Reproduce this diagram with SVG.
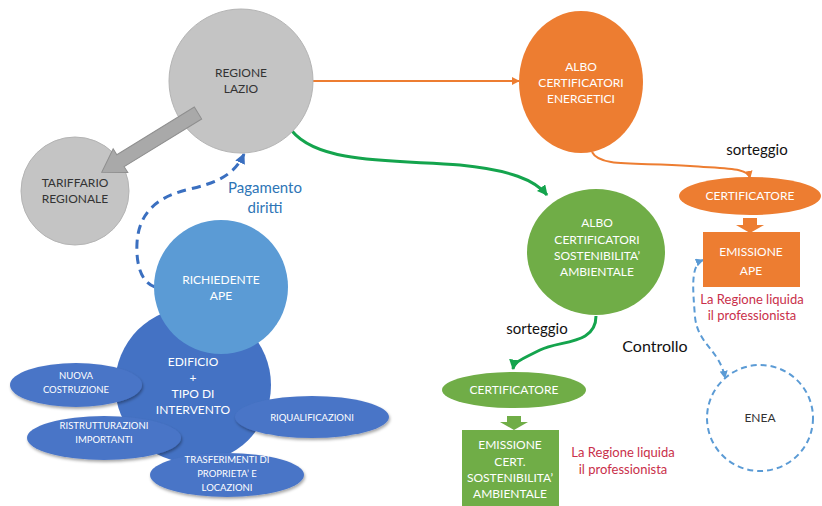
<svg xmlns="http://www.w3.org/2000/svg" width="822" height="506" viewBox="0 0 822 506">
<defs>
<style>
.t{font-family:Lato,"Liberation Sans",sans-serif;font-size:12px;text-anchor:middle;}
.s{font-size:9.5px;}
.w{fill:#ffffff;}
.k{fill:#333333;}
.lbl{font-family:Lato,"Liberation Sans",sans-serif;text-anchor:middle;}
.red{fill:#c9304a;font-size:13px;}
.gray{fill:#c4c4c4;stroke:#b4b4b4;stroke-width:1;}
.orange{fill:#ed7d31;}
.green{fill:#70ad47;}
.lblue{fill:#5b9bd5;}
.dblue{fill:#4472c4;}
.ell{fill:#4a75c7;filter:url(#sh);}
</style>
<filter id="sh" x="-20%" y="-20%" width="140%" height="160%">
<feDropShadow dx="1" dy="2" stdDeviation="1.5" flood-color="#000" flood-opacity="0.35"/>
</filter>
<marker id="ao" viewBox="0 0 10 10" refX="9" refY="5" markerWidth="4" markerHeight="4" orient="auto"><path d="M0,0 L10,5 L0,10 z" fill="#ed7d31"/></marker>
<marker id="ag" viewBox="0 0 10 10" refX="9" refY="5" markerWidth="3.5" markerHeight="3.5" orient="auto"><path d="M0,0 L10,5 L0,10 z" fill="#14a44d"/></marker>
<marker id="ab" viewBox="0 0 10 10" refX="9" refY="5" markerWidth="3.5" markerHeight="3.5" orient="auto"><path d="M0,0 L10,5 L0,10 z" fill="#3a6fc0"/></marker>
<marker id="alb" viewBox="0 0 10 10" refX="9" refY="5" markerWidth="4" markerHeight="4" orient="auto-start-reverse"><path d="M0,0 L10,5 L0,10 z" fill="#5b9bd5"/></marker>
</defs>
<rect width="822" height="506" fill="#ffffff"/>

<g id="connectors" fill="none">
<path d="M313,81 L519,81" stroke="#ed7d31" stroke-width="2" marker-end="url(#ao)"/>
<path d="M592,152 C600,168 640,162 690,166 C730,169 748,168 750,178" stroke="#ed7d31" stroke-width="2" marker-end="url(#ao)"/>
<path d="M292,131 C320,165 400,160 460,165 C510,170 535,180 547,195" stroke="#14a44d" stroke-width="3" marker-end="url(#ag)"/>
<path d="M596,316 C596,345 560,340 540,350 C520,360 514,362 513,369" stroke="#14a44d" stroke-width="3" marker-end="url(#ag)"/>
<path d="M155,287 C140,282 136,262 137,243 C139,210 160,196 190,189 C215,183 234,176 244,154" stroke="#3a6fc0" stroke-width="3" stroke-dasharray="9,6" marker-end="url(#ab)"/>
<path d="M703,260 C690,265 693,290 695,317 C698,345 720,350 725,378" stroke="#5b9bd5" stroke-width="2" stroke-dasharray="6,4" marker-start="url(#alb)" marker-end="url(#alb)"/>
<polygon points="743,218 757,218 757,225 764,225 750,233 736,225 743,225" fill="#ed7d31"/>
<polygon points="507,416 521,416 521,422 528,422 514,430 500,422 507,422" fill="#70ad47"/>
</g>

<g id="regione-lazio">
<circle cx="241" cy="81" r="72" class="gray"/>
<text class="t k" x="241" y="77">REGIONE</text>
<text class="t k" x="241" y="93">LAZIO</text>
</g>

<g id="tariffario">
<circle cx="75" cy="191" r="54" class="gray"/>
<text class="t k" x="75" y="187">TARIFFARIO</text>
<text class="t k" x="75" y="203">REGIONALE</text>
</g>

<g id="connector-tariffario">
<polygon points="0,-7 91,-7 91,-14 113,0 91,14 91,7 0,7" transform="translate(198,113) rotate(148.4)" fill="#a9a9a9" stroke="#8f8f8f" stroke-width="1"/>
</g>

<g id="pagamento-label">
<text class="lbl" x="265" y="193" font-size="15" fill="#2e75b6">Pagamento</text>
<text class="lbl" x="265" y="213" font-size="15" fill="#2e75b6">diritti</text>
</g>

<g id="edificio">
<circle cx="193" cy="385" r="78" class="dblue"/>
<text class="t w" x="193" y="366" font-size="13">EDIFICIO</text>
<text class="t w" x="193" y="382" font-size="13">+</text>
<text class="t w" x="193" y="398" font-size="13">TIPO DI</text>
<text class="t w" x="193" y="414" font-size="13">INTERVENTO</text>
</g>

<g id="richiedente">
<circle cx="221" cy="287" r="67" class="lblue"/>
<text class="t w" x="221" y="284">RICHIEDENTE</text>
<text class="t w" x="221" y="300">APE</text>
</g>

<g id="nuova-costruzione">
<ellipse cx="76" cy="385" rx="66" ry="22" class="ell"/>
<text class="t s w" x="76" y="379">NUOVA</text>
<text class="t s w" x="76" y="393">COSTRUZIONE</text>
</g>

<g id="ristrutturazioni">
<ellipse cx="104" cy="438" rx="77" ry="22" class="ell"/>
<text class="t s w" x="104" y="429">RISTRUTTURAZIONI</text>
<text class="t s w" x="104" y="443">IMPORTANTI</text>
</g>

<g id="riqualificazioni">
<ellipse cx="312" cy="417" rx="77" ry="21" class="ell"/>
<text class="t s w" x="312" y="421">RIQUALIFICAZIONI</text>
</g>

<g id="trasferimenti">
<ellipse cx="227" cy="475" rx="77" ry="22" class="ell"/>
<text class="t s w" x="227" y="463">TRASFERIMENTI DI</text>
<text class="t s w" x="227" y="477">PROPRIETA’ E</text>
<text class="t s w" x="227" y="491">LOCAZIONI</text>
</g>

<g id="albo-energetici">
<ellipse cx="581" cy="82" rx="62" ry="71" class="orange"/>
<text class="t w" x="581" y="71">ALBO</text>
<text class="t w" x="581" y="87">CERTIFICATORI</text>
<text class="t w" x="581" y="103">ENERGETICI</text>
</g>

<g id="sorteggio-1">
<text class="lbl" x="757" y="155" font-size="15" fill="#111">sorteggio</text>
</g>

<g id="certificatore-ape">
<ellipse cx="750" cy="196" rx="71" ry="19" class="orange"/>
<text class="t w" x="750" y="200">CERTIFICATORE</text>
</g>

<g id="emissione-ape">
<rect x="703" y="232" width="97" height="55" class="orange"/>
<text class="t w" x="751" y="256" font-size="14">EMISSIONE</text>
<text class="t w" x="751" y="275" font-size="14">APE</text>
<text class="lbl red" x="752" y="304">La Regione liquida</text>
<text class="lbl red" x="752" y="320">il professionista</text>
</g>

<g id="albo-sostenibilita">
<ellipse cx="596" cy="252" rx="69" ry="63" class="green"/>
<text class="t w" x="597" y="227">ALBO</text>
<text class="t w" x="597" y="244">CERTIFICATORI</text>
<text class="t w" x="597" y="260">SOSTENIBILITA’</text>
<text class="t w" x="597" y="276">AMBIENTALE</text>
</g>

<g id="sorteggio-2">
<text class="lbl" x="537" y="334" font-size="15" fill="#111">sorteggio</text>
</g>

<g id="certificatore-cert">
<ellipse cx="514" cy="390" rx="72" ry="18" class="green"/>
<text class="t w" x="514" y="394">CERTIFICATORE</text>
</g>

<g id="emissione-cert">
<rect x="462" y="430" width="97" height="80" class="green"/>
<text class="t w" x="510" y="449">EMISSIONE</text>
<text class="t w" x="510" y="466">CERT.</text>
<text class="t w" x="510" y="482">SOSTENIBILITA’</text>
<text class="t w" x="510" y="498">AMBIENTALE</text>
<text class="lbl red" x="623" y="457">La Regione liquida</text>
<text class="lbl red" x="623" y="474">il professionista</text>
</g>

<g id="controllo-label">
<text class="lbl" x="655" y="352" font-size="16" fill="#111">Controllo</text>
</g>

<g id="enea">
<circle cx="760" cy="418" r="53" fill="none" stroke="#5b9bd5" stroke-width="2" stroke-dasharray="6,4"/>
<text class="t k" x="760" y="422">ENEA</text>
</g>
</svg>
